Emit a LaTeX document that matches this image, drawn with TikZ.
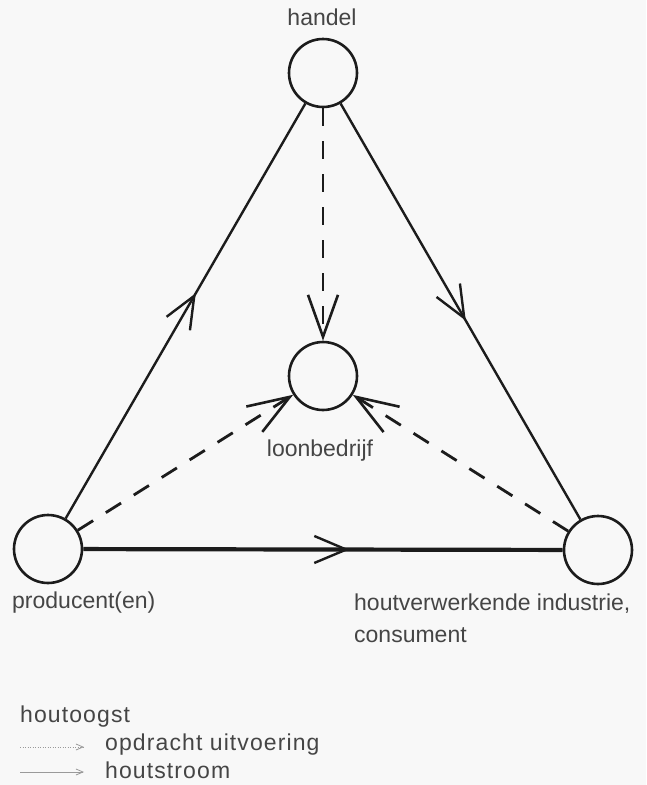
\documentclass[tikz,border=0pt]{standalone}
\usepackage{fontspec}
\setmainfont{Liberation Sans}
\usetikzlibrary{arrows.meta,decorations.markings}
\definecolor{inkc}{HTML}{1C1C1C}
\definecolor{textc}{HTML}{454545}
\definecolor{bgc}{HTML}{F8F8F8}
\definecolor{legc}{HTML}{9A9A9A}
\begin{document}
\begin{tikzpicture}[x=1pt,y=-1pt,
  station/.style={circle, draw=inkc, line width=2.6pt, minimum size=68pt, inner sep=0pt},
  flow/.style={draw=inkc, line width=2.4pt},
  mainflow/.style={draw=inkc, line width=4.2pt},
  dashflow/.style={draw=inkc, line width=2.8pt, dash pattern=on 18pt off 15pt,
     -{Straight Barb[length=42pt,width=30pt,line width=2.6pt]}},
  midarrow/.style={postaction={decorate}, decoration={markings,
     mark=at position #1 with {\arrow{Straight Barb[length=32pt,width=27pt,line width=2.4pt]}}}},
  lbl/.style={text=textc, font=\fontsize{23}{27}\selectfont, inner sep=0pt},
  leglbl/.style={text=textc, font=\fontsize{23}{27}\selectfont\addfontfeatures{LetterSpace=4.8}, inner sep=0pt},
  legline/.style={draw=legc, line width=0.8pt, -{Straight Barb[length=7pt,width=6pt]}}
]
\fill[bgc] (0,0) rectangle (646,785);
\useasboundingbox (0,0) rectangle (646,785);

% stations
\node[station] (H) at (323,73) {};
\node[station] (L) at (323,376) {};
\node[station] (P) at (48,549) {};
\node[station] (C) at (598,550) {};

% labels
\node[lbl, anchor=base] (tH) at (322,25) {handel};
\node[lbl, anchor=base] (tL) at (320,456) {loonbedrijf};
\node[lbl, anchor=base west] (tP) at (12,608) {producent(en)};
\node[lbl, anchor=base west] (tC1) at (354,610) {houtverwerkende industrie,};
\node[lbl, anchor=base west] (tC2) at (354,642) {consument};

% solid flows
\draw[flow, midarrow=0.543] (P) -- (H);
\draw[flow, midarrow=0.522] (H) -- (C);
\draw[mainflow, midarrow=0.555] (P) -- (C);

% dashed flows
\draw[dashflow] (H) -- (L);
\draw[dashflow] (P) -- (L);
\draw[dashflow] (C) -- (L);

% legend
\node[leglbl, anchor=base west] (lg0) at (20,722) {houtoogst};
\node[leglbl, anchor=base west] (lg1) at (105,750) {opdracht uitvoering};
\node[leglbl, anchor=base west] (lg2) at (105,778) {houtstroom};
\coordinate (a1s) at (20,747);
\coordinate (a1e) at (84,747);
\coordinate (a2s) at (20,772);
\coordinate (a2e) at (84,772);
\draw[legline, dash pattern=on 1pt off 1.5pt] (a1s) -- (a1e);
\draw[legline] (a2s) -- (a2e);
\end{tikzpicture}
\end{document}
